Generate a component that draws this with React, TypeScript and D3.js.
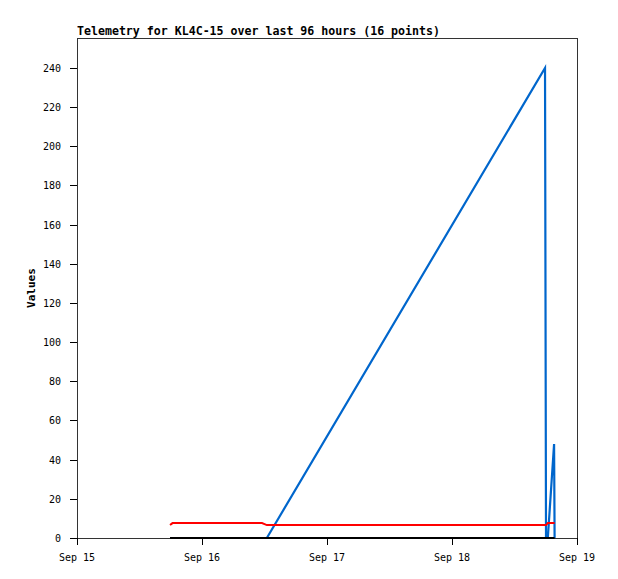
import React from "react";
import * as d3 from "d3";

// hours after Sep 15 00:00 for each sample
const sampleHours = [17.86, 18.34, 35.52, 36.45, 89.86, 90.05, 90.4, 91.6, 91.7];
const blackValues = [0, 0, 0, 0, 0, 0, 0, 0, 0];
const redValues = [6.6, 7.6, 7.6, 6.6, 6.6, 6.6, 7.6, 7.6, 7.6];
const blueValues = [0, 0, 0, 0, 240, 0, 0, 48, 0];

const yTicks = [0, 20, 40, 60, 80, 100, 120, 140, 160, 180, 200, 220, 240];
const xTickLabels = ["Sep 15", "Sep 16", "Sep 17", "Sep 18", "Sep 19"];
const titleText = "Telemetry for KL4C-15 over last 96 hours (16 points)";
const yLabel = "Values";

const W = 618, H = 579;
const M = { left: 77, right: 577, top: 38, bottom: 538 };
const start = new Date(2024, 8, 15, 0, 0, 0);
const end = new Date(2024, 8, 19, 0, 0, 0);

export default function App() {
  const x = d3.scaleTime().domain([start, end]).range([M.left, M.right]);
  const y = d3.scaleLinear().domain([0, 255.3]).range([M.bottom, M.top]);
  const times = sampleHours.map((h) => new Date(start.getTime() + h * 3600e3));
  const xTicks = xTickLabels.map((_, i) => new Date(start.getTime() + i * 86400e3));
  const mk = (vals: number[]) =>
    d3
      .line<number>()
      .x((_, i) => x(times[i]))
      .y((v) => y(v))(vals) as string;
  const mono = "'DejaVu Sans Mono', 'Liberation Mono', monospace";
  return (
    <svg
      width={W}
      height={H}
      style={{ position: "absolute", left: 0, top: 0, background: "#fff" }}
    >
      <rect x={0} y={0} width={W} height={H} fill="#fff" />
      <text x={M.left} y={35} fontFamily={mono} fontSize={11.6} fontWeight="bold" fill="#000">
        {titleText}
      </text>
      <rect
        x={M.left + 0.5}
        y={M.top + 0.5}
        width={M.right - M.left}
        height={M.bottom - M.top}
        fill="none"
        stroke="#333"
        strokeWidth={1}
        shapeRendering="crispEdges"
      />
      {yTicks.map((t) => (
        <g key={t}>
          <line x1={70} x2={M.left} y1={Math.round(y(t)) + 0.5} y2={Math.round(y(t)) + 0.5} stroke="#000" shapeRendering="crispEdges" />
          <text x={61} y={y(t) + 4} textAnchor="end" fontFamily={mono} fontSize={10} fill="#000">
            {t}
          </text>
        </g>
      ))}
      {xTicks.map((t, i) => (
        <g key={i}>
          <line x1={Math.round(x(t)) + 0.5} x2={Math.round(x(t)) + 0.5} y1={M.bottom} y2={M.bottom + 7} stroke="#000" shapeRendering="crispEdges" />
          <text x={x(t)} y={561} textAnchor="middle" fontFamily={mono} fontSize={10} fill="#000">
            {xTickLabels[i]}
          </text>
        </g>
      ))}
      <text
        transform={`translate(35,${(M.top + M.bottom) / 2}) rotate(-90)`}
        textAnchor="middle"
        fontFamily={mono}
        fontSize={11}
        fontWeight="bold"
        fill="#000"
      >
        {yLabel}
      </text>
      <path d={mk(blueValues)} fill="none" stroke="#0066cc" strokeWidth={2.2} />
      <path d={mk(redValues)} fill="none" stroke="#ff0000" strokeWidth={2} />
      <path d={mk(blackValues)} fill="none" stroke="#000" strokeWidth={2} />
    </svg>
  );
}
